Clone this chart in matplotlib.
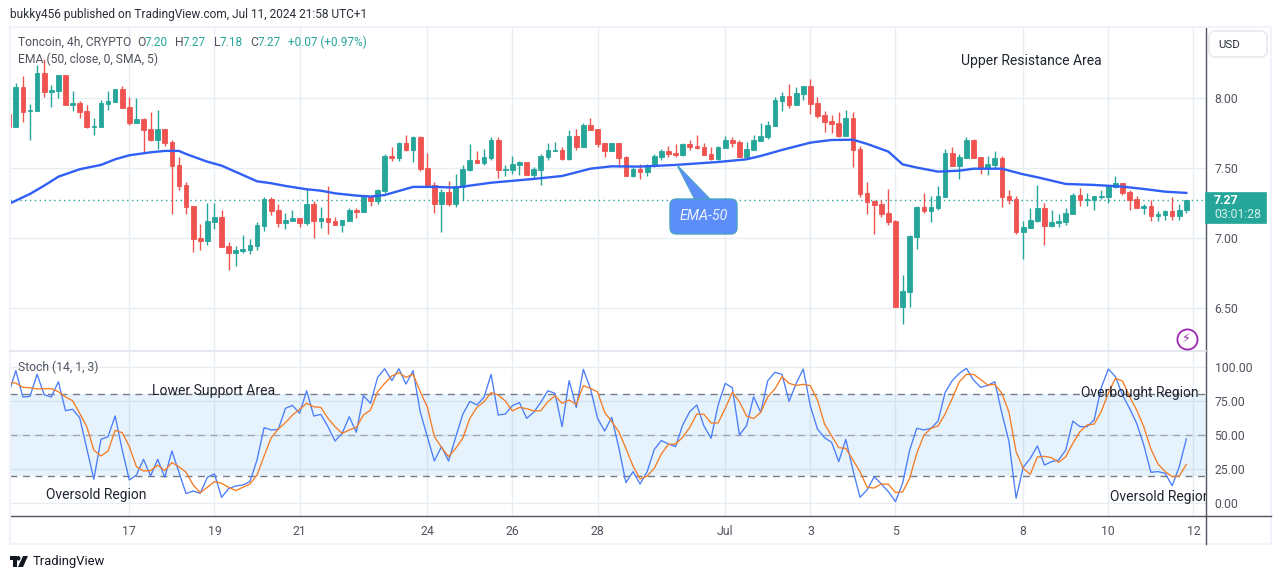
import numpy as np
from matplotlib import pyplot as plt
from matplotlib.patches import FancyBboxPatch, Polygon, Rectangle
from matplotlib.lines import Line2D
plt.style.use('ggplot')


opens = [7.886,7.795,8.079,7.905,7.910,8.179,8.045,8.052,8.164,7.952,
         7.964,7.907,7.793,7.793,7.960,7.971,8.064,7.936,7.824,7.850,
         7.779,7.700,7.779,7.686,7.522,7.379,7.229,7.000,6.981,7.117,
         7.150,6.943,6.896,6.908,6.915,6.943,7.088,7.279,7.200,7.107,
         7.122,7.143,7.107,7.243,7.122,7.143,7.122,7.093,7.122,7.203,
         7.186,7.293,7.265,7.336,7.586,7.574,7.679,7.629,7.722,7.500,
         7.379,7.243,7.329,7.243,7.365,7.486,7.557,7.536,7.572,7.700,
         7.486,7.486,7.522,7.543,7.450,7.486,7.579,7.622,7.629,7.564,
         7.729,7.650,7.807,7.779,7.679,7.622,7.679,7.579,7.443,7.493,
         7.472,7.514,7.579,7.622,7.607,7.593,7.672,7.657,7.650,7.600,
         7.564,7.643,7.700,7.686,7.579,7.629,7.693,7.722,7.800,7.979,
         8.014,7.950,8.029,8.086,7.964,7.879,7.836,7.821,7.729,7.857,
         7.636,7.322,7.265,7.243,7.179,7.122,6.508,6.615,7.008,7.222,
         7.193,7.215,7.293,7.607,7.514,7.572,7.700,7.579,7.500,7.522,
         7.572,7.300,7.279,7.043,7.072,7.122,7.215,7.086,7.108,7.115,
         7.172,7.307,7.272,7.272,7.293,7.293,7.365,7.393,7.329,7.279,
         7.215,7.229,7.157,7.165,7.193,7.157,7.20]
highs = [7.886,8.105,8.157,7.957,8.236,8.278,8.093,8.164,8.164,8.050,
         7.979,7.950,7.855,7.986,8.050,8.064,8.086,8.005,8.000,7.860,
         7.900,7.914,7.779,7.700,7.579,7.400,7.229,7.100,7.253,7.253,
         7.200,6.972,6.943,7.022,6.993,7.115,7.293,7.293,7.243,7.179,
         7.200,7.143,7.350,7.265,7.222,7.372,7.150,7.129,7.215,7.215,
         7.300,7.300,7.350,7.600,7.652,7.686,7.736,7.729,7.729,7.607,
         7.400,7.350,7.407,7.457,7.522,7.672,7.622,7.636,7.722,7.722,
         7.522,7.586,7.550,7.543,7.507,7.600,7.679,7.686,7.650,7.772,
         7.779,7.821,7.857,7.779,7.679,7.679,7.679,7.586,7.507,7.529,
         7.529,7.600,7.636,7.657,7.672,7.679,7.700,7.736,7.679,7.650,
         7.657,7.729,7.722,7.700,7.686,7.736,7.821,7.836,8.007,8.043,
         8.100,8.079,8.086,8.136,8.007,7.907,7.879,7.900,7.914,7.900,
         7.657,7.400,7.272,7.272,7.350,7.129,6.736,7.022,7.229,7.322,
         7.300,7.372,7.636,7.650,7.600,7.722,7.707,7.579,7.586,7.622,
         7.586,7.343,7.300,7.122,7.215,7.379,7.250,7.200,7.172,7.215,
         7.322,7.357,7.322,7.300,7.343,7.379,7.443,7.393,7.343,7.300,
         7.243,7.272,7.193,7.200,7.293,7.243,7.27]
lows = [7.795,7.795,7.831,7.700,7.910,8.010,7.938,8.002,7.952,7.910,
        7.860,7.788,7.736,7.791,7.914,7.971,7.931,7.810,7.824,7.605,
        7.695,7.636,7.657,7.172,7.346,7.172,6.903,6.915,6.950,7.065,
        6.939,6.772,6.800,6.896,6.886,6.915,7.050,7.165,7.079,7.065,
        7.122,7.079,7.093,7.000,7.072,7.029,7.093,7.043,7.122,7.143,
        7.186,7.229,7.243,7.322,7.553,7.553,7.622,7.543,7.479,7.379,
        7.179,7.043,7.229,7.222,7.272,7.479,7.536,7.522,7.557,7.429,
        7.443,7.457,7.450,7.450,7.422,7.379,7.557,7.622,7.557,7.557,
        7.629,7.650,7.772,7.650,7.579,7.622,7.507,7.443,7.436,7.422,
        7.443,7.507,7.557,7.579,7.579,7.586,7.629,7.636,7.593,7.557,
        7.557,7.643,7.650,7.579,7.564,7.629,7.693,7.707,7.800,7.907,
        7.929,7.950,7.986,7.886,7.857,7.757,7.750,7.722,7.729,7.507,
        7.293,7.172,7.029,7.150,7.093,6.508,6.386,6.508,6.922,7.179,
        7.115,7.200,7.293,7.514,7.422,7.572,7.572,7.457,7.450,7.493,
        7.222,7.243,7.029,6.850,7.072,7.115,6.950,7.079,7.079,7.093,
        7.172,7.229,7.229,7.200,7.279,7.250,7.357,7.307,7.200,7.215,
        7.172,7.122,7.122,7.129,7.129,7.129,7.18]
closes = [7.795,8.079,7.902,7.914,8.179,8.045,8.057,8.164,7.952,7.964,
          7.900,7.793,7.800,7.964,7.979,8.064,7.931,7.824,7.850,7.772,
          7.700,7.779,7.679,7.517,7.374,7.224,6.996,6.981,7.122,7.150,
          6.939,6.896,6.915,6.922,6.950,7.093,7.279,7.193,7.110,7.129,
          7.143,7.107,7.243,7.122,7.143,7.115,7.093,7.129,7.200,7.186,
          7.293,7.267,7.343,7.586,7.574,7.679,7.629,7.722,7.493,7.379,
          7.243,7.329,7.243,7.372,7.493,7.557,7.536,7.579,7.700,7.486,
          7.493,7.529,7.543,7.450,7.493,7.586,7.629,7.629,7.564,7.729,
          7.650,7.807,7.772,7.672,7.622,7.679,7.572,7.443,7.493,7.472,
          7.522,7.586,7.622,7.600,7.593,7.672,7.650,7.643,7.593,7.564,
          7.650,7.700,7.679,7.579,7.636,7.700,7.729,7.807,7.986,8.014,
          7.950,8.036,8.086,7.957,7.871,7.829,7.814,7.729,7.857,7.629,
          7.315,7.257,7.236,7.172,7.115,6.508,6.622,7.015,7.222,7.193,
          7.222,7.300,7.607,7.514,7.579,7.700,7.572,7.500,7.529,7.572,
          7.293,7.272,7.043,7.079,7.129,7.215,7.086,7.115,7.122,7.179,
          7.307,7.272,7.279,7.300,7.300,7.372,7.393,7.322,7.272,7.215,
          7.229,7.157,7.172,7.193,7.157,7.200,7.27]

emaBars = [0,3,5,7,10,13,15,17,20,22,24,25,28,30,33,35,37,39,42,44,46,49,51,53,55,
           57,60,63,68,74,78,82,85,89,94,100,104,106,109,113,114,116,119,121,124,126,
           128,131,134,136,140,143,145,149,153,157,160,163,166]
emaValues = [7.243,7.315,7.374,7.438,7.491,7.522,7.562,7.591,7.612,7.622,7.622,7.600,
             7.545,7.517,7.450,7.405,7.391,7.372,7.348,7.338,7.319,7.303,7.296,7.307,7.336,
             7.365,7.365,7.360,7.395,7.422,7.443,7.495,7.512,7.510,7.522,7.543,7.562,7.586,
             7.629,7.681,7.688,7.700,7.702,7.672,7.617,7.526,7.503,7.474,7.481,7.495,7.495,
             7.455,7.434,7.386,7.379,7.367,7.350,7.331,7.322]

stochK = [80.5,97.1,77.8,78.3,94.4,79.5,77.8,89.0,67.8,68.8,62.7,40.2,17.6,46.8,48.8,63.9,39.0,
          17.1,20.7,32.2,20.0,32.2,19.0,38.3,22.7,7.1,9.0,7.3,19.0,21.5,4.4,10.7,12.7,13.4,15.9,
          31.7,55.4,53.7,54.1,69.5,71.7,65.9,82.4,63.9,65.1,56.1,45.6,51.2,63.4,52.0,78.8,73.2,
          92.2,98.5,89.8,98.5,87.3,97.1,67.1,
          48.8,31.0,41.5,31.0,48.3,65.1,74.6,72.0,77.6,94.4,64.6,65.4,71.5,73.7,62.2,66.6,73.9,
          82.4,80.5,56.1,89.8,70.2,98.0,84.1,62.2,52.9,62.9,40.7,15.1,23.2,14.1,23.2,39.5,45.9,
          43.4,41.5,57.3,67.1,72.0,56.6,47.6,72.0,87.8,84.6,50.0,56.8,78.0,66.6,89.8,95.9,94.4,
          74.6,87.8,98.3,71.2,54.4,48.0,44.6,30.5,46.8,
          24.4,4.4,9.8,19.5,14.1,8.5,1.2,14.6,39.0,54.9,53.7,54.9,60.2,81.2,89.8,95.1,98.8,90.2,
          84.9,86.3,89.0,65.9,45.1,3.7,26.3,32.9,42.0,28.0,30.5,31.7,39.0,60.2,56.1,56.1,61.0,
          84.6,98.3,92.7,79.3,69.5,58.5,42.7,22.7,23.2,22.0,12.9,26.8,47.1]
stochD = [88.5,88.0,84.9,84.6,83.7,83.9,83.9,81.7,77.8,75.1,65.9,56.1,39.0,34.6,38.3,53.4,51.7,
          41.5,26.8,23.7,23.9,28.0,23.9,29.8,26.8,22.7,13.4,7.8,11.7,15.9,14.6,11.7,9.3,11.7,14.1,
          20.7,34.6,48.0,54.4,59.0,64.6,68.8,73.2,70.7,70.2,62.2,56.1,51.2,53.7,55.6,64.6,68.3,
          81.7,87.8,93.2,95.6,92.2,94.6,81.7,
          70.7,48.8,41.0,34.1,40.2,47.6,62.2,70.2,74.4,81.0,79.3,74.9,67.6,70.2,69.3,67.6,67.8,
          74.4,78.8,73.2,75.6,72.4,86.1,84.1,81.5,66.6,59.8,52.4,40.2,27.3,17.8,20.0,25.6,36.1,
          43.2,43.4,48.3,55.6,65.4,65.1,58.8,58.8,69.5,81.2,74.4,63.9,62.0,66.6,78.0,83.7,92.7,
          87.8,86.3,87.1,86.1,75.6,58.0,49.3,40.7,40.2,
          31.7,23.2,11.7,11.2,14.1,13.9,8.0,8.3,18.3,36.6,49.8,54.9,56.6,65.4,76.8,89.0,94.4,94.4,
          90.7,86.6,87.1,80.5,66.6,37.8,25.6,21.2,33.9,34.4,33.4,30.0,34.1,43.9,52.4,57.3,58.0,
          67.1,80.5,91.5,89.5,78.0,68.3,56.1,39.8,28.8,23.2,19.5,20.0,28.5]

dayBars = [17,29,41,59,71,83,101,113,125,143,155,167]
dayLabels = ['17','19','21','24','26','28','Jul','3','5','8','10','12']
priceTicks = [8.0,7.5,7.0,6.5]
stochTicks = [100,75,50,25,0]
lastPrice = 7.27

UP = '#26a69a'
DOWN = '#ef5350'
GRID = '#e6edf3'
TEXT = '#50535e'
FONT = 'Roboto'


def fx(px):
    return px / 1281


def fy(py):
    return 1 - py / 579


class ChartWindow():
    def __init__(self):
        self.fig = plt.figure(figsize=(12.81, 5.79), dpi=100, facecolor='white')
        self.ax = self.fig.add_axes([fx(10), fy(351), fx(1195.5), (351 - 27) / 579])
        self.ax2 = self.fig.add_axes([fx(10), fy(516), fx(1195.5), (516 - 351) / 579])
        self.style_axes(self.ax)
        self.style_axes(self.ax2)
        self.graph_candles()
        self.graph_stoch()
        self.frame()
        self.labels()
        self.fig.savefig('out.png', dpi=100, facecolor='white')

    def style_axes(self, ax):
        ax.set_facecolor('white')
        ax.set_xlim(0.18, 168.7)
        ax.grid(True, color=GRID, linewidth=1.0)
        ax.set_axisbelow(True)
        ax.set_xticks(dayBars)
        ax.yaxis.tick_right()
        ax.tick_params(length=0, labelsize=8.8, labelcolor=TEXT, pad=6.5)
        for side in ['top', 'left', 'bottom']:
            ax.spines[side].set_visible(False)
        ax.spines['right'].set_visible(True)
        ax.spines['right'].set_color(TEXT)
        ax.spines['right'].set_linewidth(1.0)

    def graph_candles(self):
        ax = self.ax
        bars = np.arange(len(closes))
        o = np.array(opens)
        c = np.array(closes)
        colors = [UP if c[i] >= o[i] else DOWN for i in bars]
        ax.vlines(bars, lows, highs, colors=colors, linewidth=1.0, zorder=3)
        ax.bar(bars, np.abs(c - o), bottom=np.minimum(o, c), width=0.66, color=colors,
               edgecolor=colors, linewidth=0.6, zorder=3)
        ax.plot(emaBars, emaValues, color='#2f5ff5', linewidth=1.7, zorder=4)
        ax.axhline(lastPrice, color=UP, linewidth=1.0, linestyle=(0, (1, 2.5)), zorder=2)
        ax.set_ylim(6.193, 8.507)
        ax.set_yticks(priceTicks)
        ax.set_yticklabels(['%.2f' % t for t in priceTicks], family=FONT)
        ax.tick_params(axis='x', labelbottom=False)

    def graph_stoch(self):
        ax = self.ax2
        bars = np.arange(len(stochK))
        ax.axhspan(20, 80, color='#2196f3', alpha=0.11, linewidth=0, zorder=1)
        ax.axhline(80, color='#787b86', linewidth=1.0, linestyle=(0, (5, 4)), zorder=2)
        ax.axhline(50, color='#787b86', linewidth=1.0, linestyle=(0, (5, 4)), alpha=0.6, zorder=2)
        ax.axhline(20, color='#787b86', linewidth=1.0, linestyle=(0, (5, 4)), zorder=2)
        ax.plot(bars, stochK, color='#4a7dfa', linewidth=0.95, zorder=3)
        ax.plot(bars, stochD, color='#f57c24', linewidth=0.95, zorder=4)
        ax.set_ylim(-9.3, 111.5)
        ax.set_yticks(stochTicks)
        ax.set_yticklabels(['%.2f' % t for t in stochTicks], family=FONT)
        ax.set_xticklabels(dayLabels, family=FONT)
        ax.tick_params(axis='x', pad=6.5)
        ax.spines['bottom'].set_visible(True)
        ax.spines['bottom'].set_color(TEXT)
        ax.spines['bottom'].set_linewidth(1.0)

    def frame(self):
        fig = self.fig
        tr = fig.transFigure
        # outer frame of the widget
        fig.add_artist(Rectangle((fx(10), fy(544)), fx(1261), (544 - 27) / 579, fill=False,
                                 edgecolor='#f0f3fa', linewidth=1.5, transform=tr))
        fig.add_artist(Line2D([fx(10), fx(1205.5)], [fy(351), fy(351)], color='#e0e3eb', linewidth=1.2, transform=tr))
        fig.add_artist(Line2D([fx(1205.5), fx(1205.5)], [fy(516), fy(544)], color=TEXT, linewidth=1.0, transform=tr))
        fig.add_artist(Line2D([fx(1205.5), fx(1271)], [fy(516), fy(516)], color=TEXT, linewidth=1.0, transform=tr))
        # price tag
        fig.add_artist(Rectangle((fx(1205), fy(223)), fx(61), 31 / 579, facecolor=UP, edgecolor=UP, linewidth=0.5, transform=tr))
        fig.text(fx(1214), fy(200.5), '7.27', color='white', fontsize=8.8, fontweight='bold', family=FONT, va='center')
        fig.text(fx(1214), fy(214.5), '03:01:28', color='#d5f0ec', fontsize=8.8, family=FONT, va='center')
        # currency button
        fig.add_artist(FancyBboxPatch((fx(1209), fy(57)), fx(58), 26 / 579, boxstyle='round,pad=0,rounding_size=0.005',
                                      facecolor='white', edgecolor='#e6e9f0', linewidth=1.2, transform=tr, mutation_aspect=2.2))
        fig.text(fx(1229.5), fy(44.5), 'USD', color='#2a2e39', fontsize=8.2, family=FONT, ha='center', va='center')
        # callout of the moving average
        fig.add_artist(Polygon([(fx(677), fy(165)), (fx(695), fy(200)), (fx(711), fy(200))], closed=True,
                               facecolor='#5c8df8', edgecolor='#4aa3c7', linewidth=0.8, transform=tr, zorder=5))
        fig.add_artist(FancyBboxPatch((fx(670), fy(234)), fx(67), 35 / 579, boxstyle='round,pad=0,rounding_size=0.005',
                                      facecolor='#5c8df8', edgecolor='#4aa3c7', linewidth=1.0, transform=tr, zorder=6,
                                      mutation_aspect=2.2))
        fig.text(fx(703.5), fy(216.5), 'EMA-50', color='#eef3ff', fontsize=10.3, style='italic', family=FONT,
                 ha='center', va='center', zorder=7)
        # bolt button
        fig.add_artist(Line2D([fx(1186.5)], [fy(338.5)], marker='o', markersize=14.5, markerfacecolor='white',
                              markeredgecolor='#9c27b0', markeredgewidth=1.3, transform=tr, zorder=7))
        fig.text(fx(1186.5), fy(338.5), '\u26a1', color='#9c27b0', fontsize=9, family='DejaVu Sans', ha='center', va='center', zorder=8)
        # logo at the foot
        fig.add_artist(Polygon([(fx(10), fy(556)), (fx(17), fy(556)), (fx(17), fy(567)), (fx(13), fy(567)), (fx(13), fy(560)), (fx(10), fy(560))],
                               closed=True, facecolor='#131722', edgecolor='none', transform=tr))
        fig.add_artist(Polygon([(fx(23), fy(556)), (fx(28), fy(556)), (fx(23), fy(567)), (fx(18), fy(567))],
                               closed=True, facecolor='#131722', edgecolor='none', transform=tr))
        fig.text(fx(18.5), fy(558), '\u25cf', color='#131722', fontsize=4, ha='center', va='center', family='DejaVu Sans')
        fig.text(fx(33), fy(562), 'TradingView', color='#131722', fontsize=9.4, family=FONT, va='center')

    def labels(self):
        fig = self.fig
        fig.text(fx(10), fy(14.5), 'bukky456 published on TradingView.com, Jul 11, 2024 21:58 UTC+1',
                 color='#2a2e39', fontsize=8.6, family=FONT, va='center')
        fig.text(fx(18), fy(42), 'Toncoin, 4h, CRYPTO', color=TEXT, fontsize=8.7, family=FONT, va='center')
        fig.text(fx(18), fy(59), 'EMA (50, close, 0, SMA, 5)', color=TEXT, fontsize=8.7, family=FONT, va='center')
        fig.text(fx(18), fy(367), 'Stoch (14, 1, 3)', color=TEXT, fontsize=8.7, family=FONT, va='center')
        for x, letter in [(137, 'O'), (175, 'H'), (214, 'L'), (250, 'C')]:
            fig.text(fx(x), fy(42), letter, color=TEXT, fontsize=8.7, family=FONT, va='center')
        for x, value in [(145, '7.20'), (183, '7.27'), (220, '7.18'), (258, '7.27'), (288, '+0.07 (+0.97%)')]:
            fig.text(fx(x), fy(42), value, color=UP, fontsize=8.5, family=FONT, va='center')
        ink = '#1f2430'
        fig.text(fx(961), fy(60.5), 'Upper Resistance Area', color=ink, fontsize=10, family=FONT, va='center')
        fig.text(fx(152), fy(390.5), 'Lower Support Area', color=ink, fontsize=10.1, family=FONT, va='center')
        fig.text(fx(46), fy(495.5), 'Oversold Region', color=ink, fontsize=10, family=FONT, va='center')
        fig.text(fx(1081), fy(392.5), 'Overbought Region', color=ink, fontsize=10, family=FONT, va='center')
        self.ax2.text(fx(1110), fy(496.5), 'Oversold Region', color=ink, fontsize=10, family=FONT, va='center',
                      transform=fig.transFigure, clip_on=True)


ChartWindow()
